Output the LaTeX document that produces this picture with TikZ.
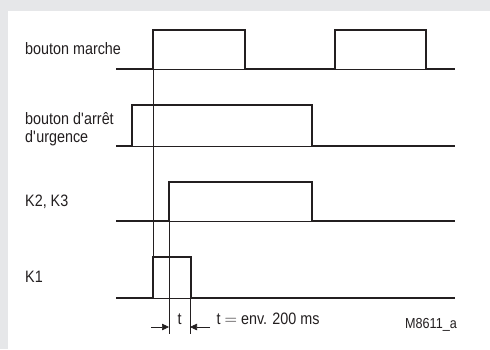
\documentclass[tikz,border=0pt]{standalone}
\usepackage{fontspec}
\setmainfont{Liberation Sans}[FakeStretch=0.87]
\usetikzlibrary{arrows.meta}
\definecolor{bggray}{HTML}{E6E7E9}
\definecolor{ink}{HTML}{231F20}
\begin{document}
\begin{tikzpicture}[x=1pt,y=-1pt,
  sig/.style={draw=ink,line width=1.7pt,line join=miter},
  thin/.style={draw=ink,line width=0.6pt},
  lbl/.style={anchor=base west,inner sep=0pt,text=ink,font=\fontsize{16.5}{18}\selectfont},
  dim/.style={draw=ink,line width=0.6pt,-{Triangle[length=7pt,width=6.5pt]}}]
\fill[bggray] (0,0) rectangle (490,349);
\fill[white] (8,11) rectangle (490,349);
\useasboundingbox (0,0) rectangle (490,349);
% labels
\node[lbl] (lm) at (25,54) {bouton marche};
\node[lbl] (la1) at (25,124) {bouton d\textquotesingle arrêt};
\node[lbl] (la2) at (25,142.5) {d\textquotesingle urgence};
\node[lbl] (lk2) at (25,206) {K2, K3};
\node[lbl] (lk1) at (25,282) {K1};
% thin baselines
\draw[thin] (116,69) -- (455,69);
\draw[thin] (116,146) -- (455,146);
\draw[thin] (116,221) -- (455,221);
\draw[thin] (116,298) -- (455,298);
% bouton marche
\draw[sig] (116,69) -- (153,69) -- (153,30) -- (245,30) -- (245,69) -- (335,69) -- (335,30) -- (426,30) -- (426,69) -- (455,69);
% bouton d'arret
\draw[sig] (116,146) -- (132,146) -- (132,105) -- (312,105) -- (312,146) -- (455,146);
% K2 K3
\draw[sig] (116,221) -- (169,221) -- (169,182) -- (312,182) -- (312,221) -- (455,221);
% K1
\draw[sig] (116,298) -- (153,298) -- (153,257) -- (191,257) -- (191,298) -- (455,298);
% thin verticals
\draw[thin] (153,69) -- (153,257);
\draw[thin] (169,221) -- (169,334);
\draw[thin] (190,298) -- (190,334);
% dimension
\coordinate (al) at (151,327);
\coordinate (ar) at (210,327);
\coordinate (tl) at (169,327);
\coordinate (tr) at (190,327);
\draw[dim] (al) -- (tl);
\draw[dim] (ar) -- (tr);
\node[lbl,anchor=base] (tt) at (179.5,324) {t};
\node[lbl] (teq) at (216.5,324) {t $=$ env. 200 ms};
\node[lbl,font=\fontsize{14.5}{16}\selectfont] (ref) at (405,328.5) {M8611\_a};
\end{tikzpicture}
\end{document}
